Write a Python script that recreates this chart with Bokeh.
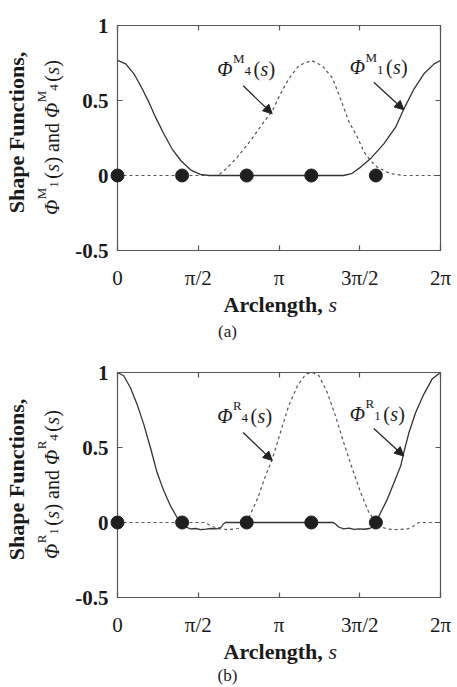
import math
from bokeh.plotting import figure
from bokeh.models import (Arrow, NormalHead, FixedTicker, LinearAxis,
                          Range1d, CustomJSTickFormatter)
from bokeh.core.properties import value
from bokeh.layouts import column
from bokeh.embed import file_html
from bokeh.resources import INLINE

# ---------------- data ----------------
node_s = [0.0, 1.2566, 2.5133, 3.7699, 5.0265]
node_v = [0.0, 0.0, 0.0, 0.0, 0.0]

# (a) Phi^M_1 (solid)
m1_s = [0.00, 0.16, 0.32, 0.48, 0.61, 0.74, 0.90, 1.06, 1.23, 1.42, 1.61, 1.78,
        2.20, 3.00, 3.80, 4.40, 4.55, 4.73, 4.92, 5.18, 5.41, 5.57, 5.77, 5.96, 6.16, 6.2832]
m1_v = [0.767, 0.744, 0.678, 0.578, 0.489, 0.389, 0.278, 0.178, 0.100, 0.038, 0.007, 0.0,
        0.0, 0.0, 0.0, 0.0, 0.012, 0.056, 0.111, 0.211, 0.322, 0.444, 0.578, 0.678, 0.744, 0.767]

# (a) Phi^M_4 (dashed)
m4_s = [0.0, 1.90, 2.00, 2.13, 2.33, 2.59, 2.82, 3.01, 3.17, 3.33, 3.53, 3.77,
        3.98, 4.18, 4.34, 4.50, 4.66, 4.79, 4.92, 5.05, 5.31, 5.57, 6.2832]
m4_v = [0.0, 0.0, 0.012, 0.05, 0.122, 0.233, 0.344, 0.43, 0.544, 0.644, 0.733, 0.767,
        0.733, 0.65, 0.51, 0.36, 0.26, 0.16, 0.10, 0.056, 0.012, 0.0, 0.0]

# (b) Phi^R_1 (solid)
r1_s = [0.00, 0.12, 0.25, 0.38, 0.51, 0.64, 0.77, 0.90, 1.03, 1.16, 1.2566,
        1.33, 1.42, 1.52, 1.62, 1.72, 1.82, 1.93, 2.02, 2.06, 2.10,
        3.00, 4.20, 4.24, 4.30, 4.40, 4.50, 4.60, 4.70, 4.80, 4.90, 4.97, 5.0265,
        5.12, 5.25, 5.38, 5.51, 5.57, 5.67, 5.80, 5.96, 6.12, 6.2832]
r1_v = [1.0, 0.978, 0.90, 0.789, 0.656, 0.50, 0.333, 0.211, 0.111, 0.033, 0.0,
        -0.030, -0.042, -0.040, -0.047, -0.044, -0.040, -0.042, -0.030, -0.010, 0.0,
        0.0, 0.0, -0.010, -0.030, -0.042, -0.038, -0.046, -0.043, -0.045, -0.040, -0.030, 0.0,
        0.067, 0.156, 0.267, 0.378, 0.467, 0.60, 0.733, 0.856, 0.956, 1.0]

# (b) Phi^R_4 (dashed)
r4_s = [0.0, 1.70, 1.80, 1.95, 2.15, 2.35, 2.45, 2.5133,
        2.72, 2.88, 3.01, 3.17, 3.33, 3.50, 3.66, 3.79, 3.92, 4.08, 4.24, 4.40, 4.57,
        4.73, 4.89, 5.0265, 5.10, 5.25, 5.45, 5.65, 5.78, 5.86, 6.2832]
r4_v = [0.0, 0.0, -0.020, -0.040, -0.048, -0.040, -0.020, 0.0,
        0.156, 0.311, 0.422, 0.60, 0.778, 0.911, 0.989, 1.0, 0.978, 0.867, 0.711, 0.533, 0.356,
        0.20, 0.067, 0.0, -0.025, -0.044, -0.048, -0.042, -0.020, 0.0, 0.0]

x_tick_vals = [0.0, 1.5708, 3.1416, 4.7124, 6.2832]
x_tick_text = ["0", "π/2", "π", "3π/2", "2π"]
y_tick_vals = [-0.5, 0.0, 0.5, 1.0]
y_tick_text = ["-0.5", "0", "0.5", "1"]

# ---------------- styling / geometry ----------------
FONT = "Liberation Serif"
FRAME_L, FRAME_W, FRAME_H = 117, 323, 225
XMAX = 6.2832
FIX = 5.0  # baseline correction (px)
WID = {"Φ": 0.76, "M": 0.889, "R": 0.667, "1": 0.5, "4": 0.5, "(": 0.333,
       ")": 0.333, "s": 0.389, "a": 0.444, "n": 0.5, "d": 0.5, " ": 0.25}


def tw(t, size):
    return sum(WID.get(c, 0.5) for c in t) * size


def px2d(px, py, top):
    return ((px - FRAME_L) / FRAME_W * XMAX, 1.0 - (py - top) / FRAME_H * 1.5)


def add_label(p, top, px, py, text, style="normal", size=20, angle=0.0,
              align="left", baseline="alphabetic"):
    if angle == 0.0:
        py = py - FIX
    else:
        px = px - FIX
    x, y = px2d(px, py, top)
    p.text(x=[x], y=[y], text=[text], text_font=value(FONT),
           text_font_style=style, text_font_size=f"{size}px",
           text_align=align, text_baseline=baseline, angle=angle,
           text_color="#1a1a1a", level="overlay")


def phi_runs(sup, sub):
    return [("Φ", "italic", 20, 0, 0), (sup, "normal", 13, 10.0, 0.5),
            (sub, "normal", 13, -2.5, 0), ("(", "normal", 20, 0, 2.5),
            ("s", "italic", 20, 0, 0.3), (")", "normal", 20, 0, 0.3)]


def add_runs_h(p, top, runs, x0, base):
    x = x0
    for text, style, size, shift, gap in runs:
        x += gap
        add_label(p, top, x, base - shift, text, style, size)
        x += tw(text, size)


def add_runs_v(p, top, runs, base_x, center_y):
    total = sum(tw(r[0], r[2]) + r[4] for r in runs)
    y = center_y + total / 2.0
    for text, style, size, shift, gap in runs:
        y -= gap
        add_label(p, top, base_x - shift, y, text, style, size, angle=math.pi / 2)
        y -= tw(text, size)


def make_panel(sym, top_border, top_global, c1_s, c1_v, c4_s, c4_v, lab_base,
               letter, letter_base):
    p = figure(frame_width=FRAME_W, frame_height=FRAME_H,
               min_border_left=FRAME_L, min_border_right=17,
               min_border_top=top_border, min_border_bottom=90,
               x_range=Range1d(0, XMAX), y_range=Range1d(-0.5, 1.0),
               output_backend="svg", toolbar_location=None)
    p.grid.visible = False
    p.outline_line_color = "#555555"
    p.outline_line_width = 1.2
    p.background_fill_color = "white"
    p.border_fill_color = "white"

    for ax in p.xaxis:
        ax.ticker = FixedTicker(ticks=x_tick_vals)
        ax.major_label_overrides = dict(zip(x_tick_vals, x_tick_text))
        ax.major_label_text_font = FONT
        ax.major_label_text_font_size = "21px"
        ax.major_label_text_color = "#1a1a1a"
        ax.major_label_standoff = 15
    for ax in p.yaxis:
        ax.ticker = FixedTicker(ticks=y_tick_vals)
        ax.major_label_overrides = dict(zip(y_tick_vals, y_tick_text))
        ax.major_label_text_font = FONT
        ax.major_label_text_font_style = "bold"
        ax.major_label_text_font_size = "21px"
        ax.major_label_text_color = "#1a1a1a"
        ax.major_label_standoff = 9
    p.add_layout(LinearAxis(ticker=FixedTicker(ticks=x_tick_vals),
                            formatter=CustomJSTickFormatter(code="return ''")), "above")
    p.add_layout(LinearAxis(ticker=FixedTicker(ticks=y_tick_vals),
                            formatter=CustomJSTickFormatter(code="return ''")), "right")
    for ax in p.axis:
        ax.axis_line_color = None
        ax.major_tick_in = 5
        ax.major_tick_out = 0
        ax.minor_tick_line_color = None
        ax.major_tick_line_color = "#555555"
        ax.major_tick_line_width = 1.2

    p.line(c4_s, c4_v, line_color="#555555", line_width=1.2, line_dash="3 3")
    p.line(c1_s, c1_v, line_color="#333333", line_width=1.3)
    p.scatter(node_s, node_v, size=13, color="#1f1f1f", level="overlay")

    # curve labels with arrows
    add_runs_h(p, top_global, phi_runs(sym, "4"), 216.7, lab_base[0])
    add_runs_h(p, top_global, phi_runs(sym, "1"), 349.3, lab_base[1])
    arrows = [((242.7, lab_base[0] + 12), (271.7, lab_base[0] + 40)),
              ((373.3, lab_base[1] + 10), (403.3, lab_base[1] + 37.5))]
    for (xs, ys), (xe, ye) in arrows:
        x0, y0 = px2d(xs, ys, top_global)
        x1, y1 = px2d(xe, ye, top_global)
        p.add_layout(Arrow(x_start=x0, y_start=y0, x_end=x1, y_end=y1,
                           line_color="#222222", line_width=1.2,
                           end=NormalHead(size=9, fill_color="#222222",
                                          line_color="#222222")))

    # y axis label (two lines, rotated)
    add_label(p, top_global, 21, top_global + 107, "Shape Functions,", "bold", 22,
              angle=math.pi / 2, align="center")
    runs = phi_runs(sym, "1") + [("and", "normal", 20, 0, 5.0)] + \
        [(r[0], r[1], r[2], r[3], r[4] + (5.0 if i == 0 else 0))
         for i, r in enumerate(phi_runs(sym, "4"))]
    add_runs_v(p, top_global, runs, 56, top_global + 112)

    # x axis label and panel letter
    bx = top_global + 225
    add_label(p, top_global, 223, bx + 59, "Arclength,", "bold", 22)
    add_label(p, top_global, 223 + 4.527 * 22 + 5.5, bx + 59, "s", "italic", 22)
    add_label(p, top_global, 227, letter_base, letter, "normal", 17, align="center")
    return p


p1 = make_panel("M", 25, 25, m1_s, m1_v, m4_s, m4_v, (73.3, 71.7), "(a)", 336)
p2 = make_panel("R", 32, 372, r1_s, r1_v, r4_s, r4_v, (420.0, 418.0), "(b)", 680)

layout = column(p1, p2, spacing=0)
open("out.html", "w").write(file_html(layout, INLINE))
